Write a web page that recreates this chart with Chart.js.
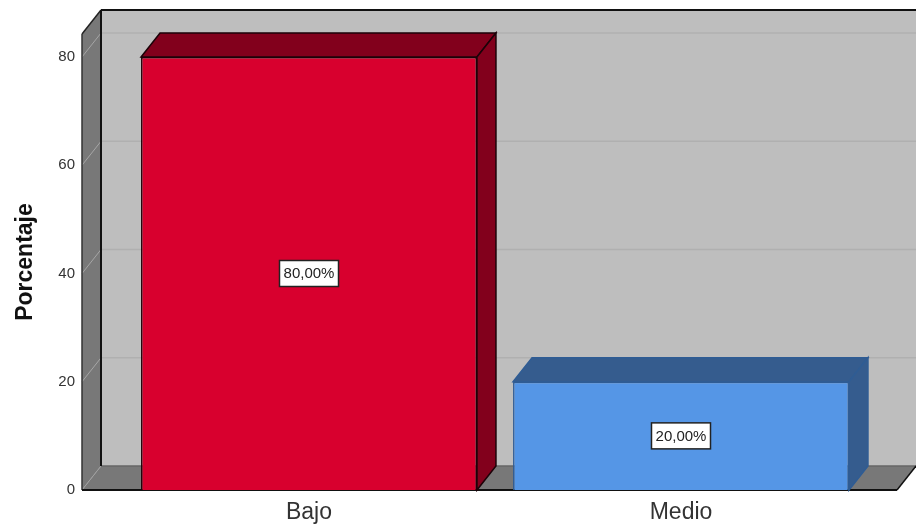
<!DOCTYPE html>
<html>
<head>
<meta charset="utf-8">
<style>
  html, body { margin: 0; padding: 0; background: #fff; overflow: hidden; }
  canvas { display: block; }
</style>
<script src="https://cdn.jsdelivr.net/npm/chart.js@4"></script>
</head>
<body>
<canvas id="myChart" width="916" height="525"></canvas>
<script>
const categories = ["Bajo", "Medio"];
const percentages = [80, 20];
const axisTitle = "Porcentaje";
const axisTop = 84.25;
const tickStep = 20;

const frontColors = ["#D8002E", "#5596E6"];
const shadeColors = ["#82001C", "#355C8E"];
const edgeColors = ["#1c0208", "#2F5C94"];

// fake 3D depth of the SPSS style box, in pixels
const depthX = 19;
const depthY = -24;
// the walls start left of the first category band
const wallLeft = 82;
const wallRight = 897;

function poly(ctx, pts, fill, stroke, lineWidth) {
  ctx.beginPath();
  pts.forEach((p, i) => (i ? ctx.lineTo(p[0], p[1]) : ctx.moveTo(p[0], p[1])));
  ctx.closePath();
  if (fill) {
    ctx.fillStyle = fill;
    ctx.fill();
  }
  if (stroke) {
    ctx.strokeStyle = stroke;
    ctx.lineWidth = lineWidth || 1;
    ctx.stroke();
  }
}

function line(ctx, x1, y1, x2, y2, color, width) {
  ctx.beginPath();
  ctx.moveTo(x1, y1);
  ctx.lineTo(x2, y2);
  ctx.strokeStyle = color;
  ctx.lineWidth = width || 1;
  ctx.stroke();
}

const boxPlugin = {
  id: "box3d",
  beforeDatasetsDraw(chart) {
    const { ctx, chartArea, scales } = chart;
    const top = chartArea.top;
    const bottom = chartArea.bottom;
    const backX = wallLeft + depthX;
    const w = chart.width;
    ctx.save();
    // back wall
    poly(ctx, [[backX, top + depthY], [w, top + depthY], [w, bottom + depthY], [backX, bottom + depthY]], "#BEBEBE");
    // left wall and floor
    poly(ctx, [[wallLeft, top], [backX, top + depthY], [backX, bottom + depthY], [wallLeft, bottom]], "#787878");
    poly(ctx, [[wallLeft, bottom], [backX, bottom + depthY], [wallRight + depthX, bottom + depthY], [wallRight, bottom]], "#787878");
    // gridlines run along the wall, then along the back
    scales.y.ticks.forEach((t) => {
      const y = scales.y.getPixelForValue(t.value);
      if (t.value === 0) return;
      line(ctx, wallLeft, y, backX, y + depthY, "#A6A6A6");
      line(ctx, backX, y + depthY, w, y + depthY, "#B0B0B0", 1.5);
    });
    line(ctx, wallLeft, top, backX, top + depthY, "#222222", 1.5);
    line(ctx, wallLeft, bottom, backX, bottom + depthY, "#A0A0A0");
    line(ctx, backX, bottom + depthY, w, bottom + depthY, "#666666", 1.5);
    // frame
    line(ctx, backX, top + depthY, w, top + depthY, "#111111", 2);
    line(ctx, backX, top + depthY, backX, bottom + depthY, "#111111", 2);
    line(ctx, wallLeft, top, wallLeft, bottom, "#333333", 1.5);
    line(ctx, wallLeft, bottom, wallRight, bottom, "#111111", 2);
    line(ctx, wallRight, bottom, wallRight + depthX, bottom + depthY, "#111111", 1.5);
    // top and side faces of the bars
    chart.getDatasetMeta(0).data.forEach((bar, i) => {
      const l = bar.x - bar.width / 2;
      const r = bar.x + bar.width / 2;
      const edge = edgeColors[i];
      poly(ctx, [[l, bar.y], [l + depthX, bar.y + depthY], [r + depthX, bar.y + depthY], [r, bar.y]], shadeColors[i], edge, 1.5);
      poly(ctx, [[r, bar.y], [r + depthX, bar.y + depthY], [r + depthX, bar.base + depthY], [r, bar.base]], shadeColors[i], edge, 1.5);
    });
    ctx.restore();
  },
  afterDatasetsDraw(chart) {
    const { ctx } = chart;
    ctx.save();
    ctx.font = '15px "Liberation Sans"';
    ctx.textAlign = "center";
    ctx.textBaseline = "middle";
    chart.getDatasetMeta(0).data.forEach((bar, i) => {
      const label = percentages[i].toFixed(2).replace(".", ",") + "%";
      const cy = (bar.y + bar.base) / 2;
      const boxW = 59;
      const boxH = 26;
      ctx.fillStyle = "#FFFFFF";
      ctx.fillRect(bar.x - boxW / 2, cy - boxH / 2, boxW, boxH);
      ctx.strokeStyle = "#222222";
      ctx.lineWidth = 1.5;
      ctx.strokeRect(bar.x - boxW / 2, cy - boxH / 2, boxW, boxH);
      ctx.fillStyle = "#222222";
      ctx.fillText(label, bar.x, cy + 0.5);
    });
    ctx.restore();
  },
};

new Chart("myChart", {
  type: "bar",
  data: {
    labels: categories,
    datasets: [
      {
        data: percentages,
        backgroundColor: frontColors,
        borderColor: edgeColors,
        borderWidth: 1.5,
        barPercentage: 0.903,
        categoryPercentage: 1,
      },
    ],
  },
  plugins: [boxPlugin],
  options: {
    responsive: false,
    animation: false,
    devicePixelRatio: 1,
    layout: { autoPadding: false, padding: { top: 34, right: 49, bottom: 0, left: 0 } },
    plugins: { legend: { display: false }, tooltip: { enabled: false } },
    scales: {
      x: {
        grid: { display: false, drawTicks: false },
        border: { display: false },
        afterFit: (scale) => {
          scale.height = 35;
        },
        ticks: {
          padding: 9,
          maxRotation: 0,
          color: "#333333",
          font: { family: "Liberation Sans", size: 23 },
        },
      },
      y: {
        min: 0,
        max: axisTop,
        afterFit: (scale) => {
          scale.width = 123;
          // big tick padding also pads the scale vertically, drop that
          scale.paddingTop = 0;
          scale.paddingBottom = 0;
        },
        afterBuildTicks: (scale) => {
          scale.ticks = scale.ticks.filter((t) => t.value % tickStep === 0);
        },
        grid: { display: false, drawTicks: false },
        border: { display: false },
        ticks: {
          stepSize: tickStep,
          padding: 48,
          color: "#333333",
          font: { family: "Liberation Sans", size: 15 },
        },
        title: {
          display: true,
          text: axisTitle,
          color: "#111111",
          padding: { top: 12, bottom: 0 },
          font: { family: "Liberation Sans", size: 23, weight: "bold" },
        },
      },
    },
  },
});
</script>
</body>
</html>
